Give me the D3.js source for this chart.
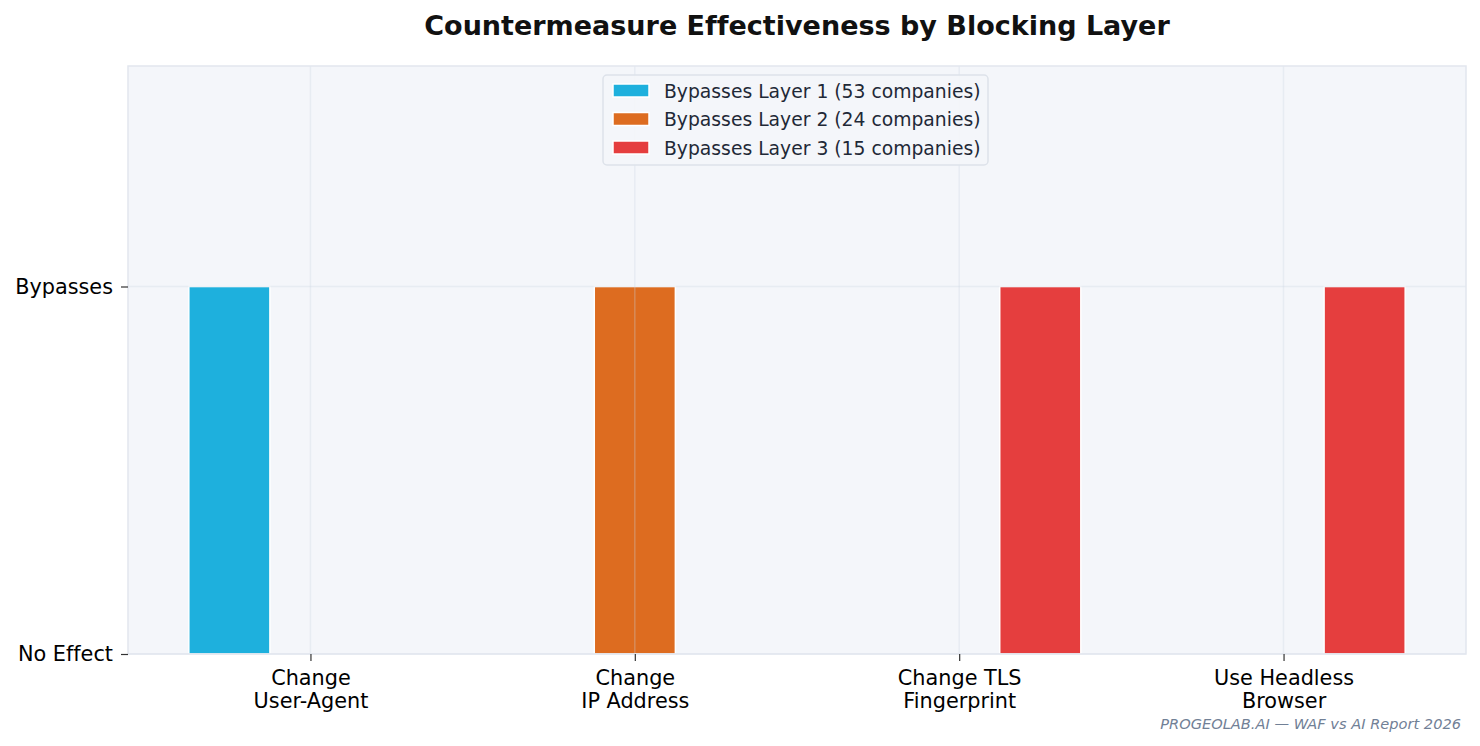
<!DOCTYPE html>
<html>
<head>
<meta charset="utf-8">
<script src="https://cdn.jsdelivr.net/npm/d3@7"></script>
<style>
  body { margin: 0; background: #ffffff; }
  svg { display: block; font-family: "DejaVu Sans", sans-serif; font-variant-ligatures: none; }
</style>
</head>
<body>
<script>
// chart data
const categories = [
  ['Change', 'User-Agent'],
  ['Change', 'IP Address'],
  ['Change TLS', 'Fingerprint'],
  ['Use Headless', 'Browser']
];
const seriesNames = [
  'Bypasses Layer 1 (53 companies)',
  'Bypasses Layer 2 (24 companies)',
  'Bypasses Layer 3 (15 companies)'
];
const layer1 = [1, 0, 0, 0];
const layer2 = [0, 1, 0, 0];
const layer3 = [0, 0, 1, 1];
const yTickValues = [0, 1];
const yTickLabels = ['No Effect', 'Bypasses'];

const seriesColors = ['#1eb0dd', '#dd6c20', '#e53e3e'];

/*
 * Draws the grouped bar chart.
 */

const plotChart = () => {
  const width = 1480;
  const height = 746;
  const left = 128;
  const right = 1466;
  const top = 66;
  const bottom = 654;
  const barWidth = 0.25;
  const fontFamily = '"DejaVu Sans", sans-serif';

  const series = [layer1, layer2, layer3];

  const svg = d3.select('body')
    .append('svg')
      .attr('width', width)
      .attr('height', height);

  // matplotlib style limits: bars span -0.375..3.375 plus 5% margins
  const xScale = d3.scaleLinear()
      .domain([-0.5625, 3.5625])
      .range([left, right]);

  const yScale = d3.scaleLinear()
      .domain([0, 1.6])
      .range([bottom, top]);

  // plot background
  svg.append('rect')
      .attr('x', left)
      .attr('y', top)
      .attr('width', right - left)
      .attr('height', bottom - top)
      .attr('fill', '#f4f6fa');

  // bars
  series.forEach((values, s) => {
    const offset = (s - 1) * barWidth;
    svg.append('g')
      .selectAll('rect')
      .data(values)
      .enter()
      .append('rect')
        .attr('x', (d, i) => xScale(i + offset - barWidth / 2))
        .attr('y', d => yScale(d))
        .attr('width', xScale(barWidth) - xScale(0))
        .attr('height', d => yScale(0) - yScale(d))
        .attr('fill', seriesColors[s])
        .attr('stroke', d => d > 0 ? '#ffffff' : 'none')
        .attr('stroke-width', 1.5);
  });

  // grid lines (drawn over the bars, translucent)
  const grid = svg.append('g')
      .attr('stroke', '#cbd5e0')
      .attr('stroke-opacity', 0.3)
      .attr('stroke-width', 1.5);

  grid.selectAll('.vgrid')
    .data(categories)
    .enter()
    .append('line')
      .attr('x1', (d, i) => xScale(i))
      .attr('x2', (d, i) => xScale(i))
      .attr('y1', top)
      .attr('y2', bottom);

  grid.selectAll('.hgrid')
    .data(yTickValues)
    .enter()
    .append('line')
      .attr('x1', left)
      .attr('x2', right)
      .attr('y1', d => yScale(d))
      .attr('y2', d => yScale(d));

  // frame
  svg.append('rect')
      .attr('x', left)
      .attr('y', top)
      .attr('width', right - left)
      .attr('height', bottom - top)
      .attr('fill', 'none')
      .attr('stroke', '#e2e6ee')
      .attr('stroke-width', 1.5);

  // x axis
  const xAxis = d3.axisBottom(xScale)
      .tickValues(d3.range(categories.length))
      .tickSize(7)
      .tickPadding(7)
      .tickFormat('');

  const gx = svg.append('g')
      .attr('transform', `translate(0, ${bottom})`)
      .call(xAxis)
      .attr('font-family', fontFamily);
  gx.select('.domain').remove();
  gx.selectAll('.tick line').attr('stroke', '#333').attr('stroke-width', 1.2);

  gx.selectAll('.tick')
    .append('text')
      .attr('fill', '#000')
      .attr('font-size', 20.8)
      .attr('font-family', fontFamily)
      .attr('text-anchor', 'middle')
    .selectAll('tspan')
    .data((d, i) => categories[i])
    .enter()
    .append('tspan')
      .attr('x', 0)
      .attr('y', (d, j) => 31 + j * 23)
      .text(d => d);

  // y axis
  const yAxis = d3.axisLeft(yScale)
      .tickValues(yTickValues)
      .tickSize(7)
      .tickPadding(8)
      .tickFormat((d, i) => yTickLabels[i]);

  const gy = svg.append('g')
      .attr('transform', `translate(${left}, 0)`)
      .call(yAxis)
      .attr('font-family', fontFamily);
  gy.select('.domain').remove();
  gy.selectAll('.tick line').attr('stroke', '#333').attr('stroke-width', 1.2);
  gy.selectAll('.tick text')
      .attr('fill', '#000')
      .attr('font-size', 20.8);

  // title
  svg.append('text')
      .attr('x', (left + right) / 2)
      .attr('y', 35)
      .attr('text-anchor', 'middle')
      .attr('font-size', 27)
      .attr('font-weight', 'bold')
      .attr('fill', '#111')
      .text('Countermeasure Effectiveness by Blocking Layer');

  // legend
  const legend = svg.append('g')
      .attr('transform', 'translate(603, 75)');

  legend.append('rect')
      .attr('width', 385)
      .attr('height', 90)
      .attr('rx', 4)
      .attr('fill', '#f4f6fa')
      .attr('fill-opacity', 0.9)
      .attr('stroke', '#dde2ea')
      .attr('stroke-width', 1.5);

  const items = legend.selectAll('.item')
    .data(seriesNames)
    .enter()
    .append('g')
      .attr('transform', (d, i) => `translate(0, ${15.5 + i * 28.5})`);

  items.append('rect')
      .attr('x', 10)
      .attr('y', -6.5)
      .attr('width', 36)
      .attr('height', 13)
      .attr('fill', (d, i) => seriesColors[i])
      .attr('stroke', '#fff')
      .attr('stroke-width', 1.5);

  items.append('text')
      .attr('x', 61)
      .attr('y', 7)
      .attr('font-size', 18.75)
      .attr('fill', '#1f2937')
      .text(d => d);

  // footer credit
  svg.append('text')
      .attr('x', 1461)
      .attr('y', 729)
      .attr('text-anchor', 'end')
      .attr('font-size', 14.6)
      .attr('font-style', 'italic')
      .attr('fill', '#718096')
      .text('PROGEOLAB.AI — WAF vs AI Report 2026');
};

document.addEventListener('DOMContentLoaded', plotChart);
</script>
</body>
</html>
